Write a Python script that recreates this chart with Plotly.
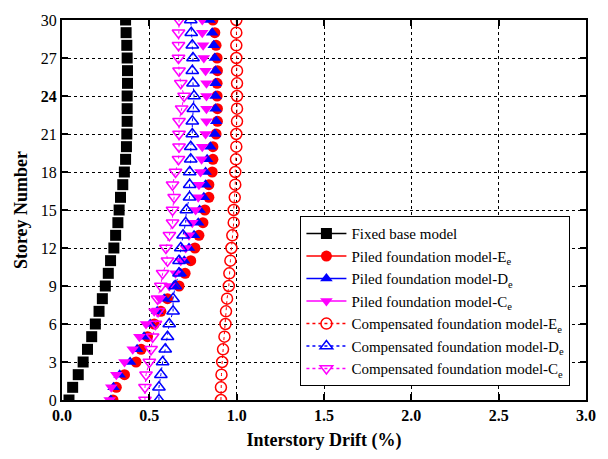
import plotly.graph_objects as go

storeys = list(range(0, 31))

fixed_base = [0.040, 0.061, 0.093, 0.121, 0.146, 0.170, 0.191, 0.212, 0.231, 0.248,
              0.265, 0.278, 0.297, 0.307, 0.320, 0.327, 0.335, 0.348, 0.357, 0.364,
              0.369, 0.371, 0.373, 0.373, 0.373, 0.375, 0.375, 0.373, 0.371, 0.367, 0.364]

piled_e = [0.292, 0.311, 0.358, 0.424, 0.453, 0.490, 0.528, 0.566, 0.604, 0.670,
           0.705, 0.737, 0.761, 0.784, 0.807, 0.818, 0.841, 0.841, 0.860, 0.864,
           0.864, 0.882, 0.890, 0.890, 0.888, 0.888, 0.890, 0.888, 0.882, 0.875, 0.864]

piled_d = [0.280, 0.295, 0.330, 0.390, 0.430, 0.470, 0.505, 0.545, 0.585, 0.640,
           0.680, 0.700, 0.727, 0.756, 0.780, 0.788, 0.812, 0.822, 0.822, 0.831,
           0.850, 0.875, 0.883, 0.879, 0.879, 0.879, 0.879, 0.875, 0.869, 0.860, 0.845]

piled_c = [0.273, 0.282, 0.311, 0.358, 0.405, 0.443, 0.481, 0.528, 0.560, 0.614,
           0.650, 0.680, 0.708, 0.727, 0.746, 0.765, 0.780, 0.784, 0.793, 0.799,
           0.803, 0.822, 0.827, 0.827, 0.827, 0.827, 0.822, 0.812, 0.808, 0.803, 0.803]

comp_e = [0.910, 0.910, 0.913, 0.917, 0.922, 0.930, 0.936, 0.939, 0.945, 0.955,
          0.958, 0.964, 0.970, 0.975, 0.983, 0.983, 0.989, 0.992, 0.992, 0.996,
          0.998, 0.998, 1.002, 1.002, 1.002, 1.002, 1.002, 0.998, 0.998, 0.998, 0.998]

comp_d = [0.555, 0.555, 0.566, 0.576, 0.591, 0.604, 0.614, 0.636, 0.636, 0.648,
          0.670, 0.670, 0.680, 0.693, 0.708, 0.712, 0.730, 0.731, 0.731, 0.737,
          0.737, 0.746, 0.746, 0.752, 0.756, 0.750, 0.746, 0.750, 0.746, 0.740, 0.737]

comp_c = [0.475, 0.475, 0.481, 0.500, 0.510, 0.519, 0.535, 0.550, 0.547, 0.566,
          0.576, 0.604, 0.595, 0.615, 0.633, 0.633, 0.642, 0.633, 0.650, 0.667,
          0.670, 0.670, 0.670, 0.685, 0.699, 0.680, 0.670, 0.667, 0.667, 0.667, 0.670]

x_ticks = [0.0, 0.5, 1.0, 1.5, 2.0, 2.5, 3.0]
y_ticks = list(range(0, 31, 3))

series = [
    ("Fixed base model", fixed_base, "black", "square", "solid"),
    ("Piled foundation model-E<sub>e</sub>", piled_e, "red", "circle", "solid"),
    ("Piled foundation model-D<sub>e</sub>", piled_d, "blue", "triangle-up", "solid"),
    ("Piled foundation model-C<sub>e</sub>", piled_c, "magenta", "triangle-down", "solid"),
    ("Compensated foundation model-E<sub>e</sub>", comp_e, "red", "circle-open", "dot"),
    ("Compensated foundation model-D<sub>e</sub>", comp_d, "blue", "triangle-up-open", "dot"),
    ("Compensated foundation model-C<sub>e</sub>", comp_c, "magenta", "triangle-down-open", "dot"),
]

fig = go.Figure()
for name, vals, color, symbol, dash in series:
    is_open = symbol.endswith("open")
    marker = dict(symbol=symbol, size=11, color=color,
                  line=dict(color=color, width=1.5 if is_open else 0))
    # data markers; the dotted series keep a faint connector between storeys
    fig.add_trace(go.Scatter(
        x=vals, y=storeys, name=name, showlegend=False,
        mode="lines+markers" if is_open else "markers",
        line=dict(color=color, width=1, dash=dash),
        marker=marker,
    ))
    # legend key with line and symbol
    fig.add_trace(go.Scatter(
        x=[None], y=[None], name=name, mode="lines+markers",
        line=dict(color=color, width=1.5, dash=dash),
        marker=marker,
    ))

font_family = "'Times New Roman', 'Liberation Serif', serif"
axis_common = dict(
    showline=True, linecolor="black", linewidth=2, mirror="ticks",
    ticks="inside", ticklen=6, tickwidth=1.5, tickcolor="black",
    showgrid=True, gridcolor="black", gridwidth=1, griddash="dot",
    zeroline=False,
    tickfont=dict(family=font_family, size=16, color="black"),
)

fig.update_xaxes(
    range=[0, 3], tickvals=x_ticks,
    ticktext=[f"<b>{v:.1f}</b>" for v in x_ticks],
    title=dict(text="<b>Interstory Drift (%)</b>",
               font=dict(family=font_family, size=18, color="black"), standoff=10),
    **axis_common,
)
fig.update_yaxes(
    range=[0, 30], tickvals=y_ticks,
    ticktext=[f"<b>{v}</b>" if v == 24 else str(v) for v in y_ticks],
    title=dict(text="<b>Storey Number</b>",
               font=dict(family=font_family, size=18, color="black"), standoff=8),
    **axis_common,
)

fig.update_layout(
    width=608, height=459,
    margin=dict(l=62, r=18, t=16, b=59),
    paper_bgcolor="white", plot_bgcolor="white",
    font=dict(family=font_family, color="black"),
    legend=dict(
        x=0.455, y=0.036, xanchor="left", yanchor="bottom",
        bgcolor="white", bordercolor="black", borderwidth=1,
        font=dict(family=font_family, size=15, color="black"),
        tracegroupgap=0, itemwidth=40,
    ),
)

fig.write_html("out.html")
